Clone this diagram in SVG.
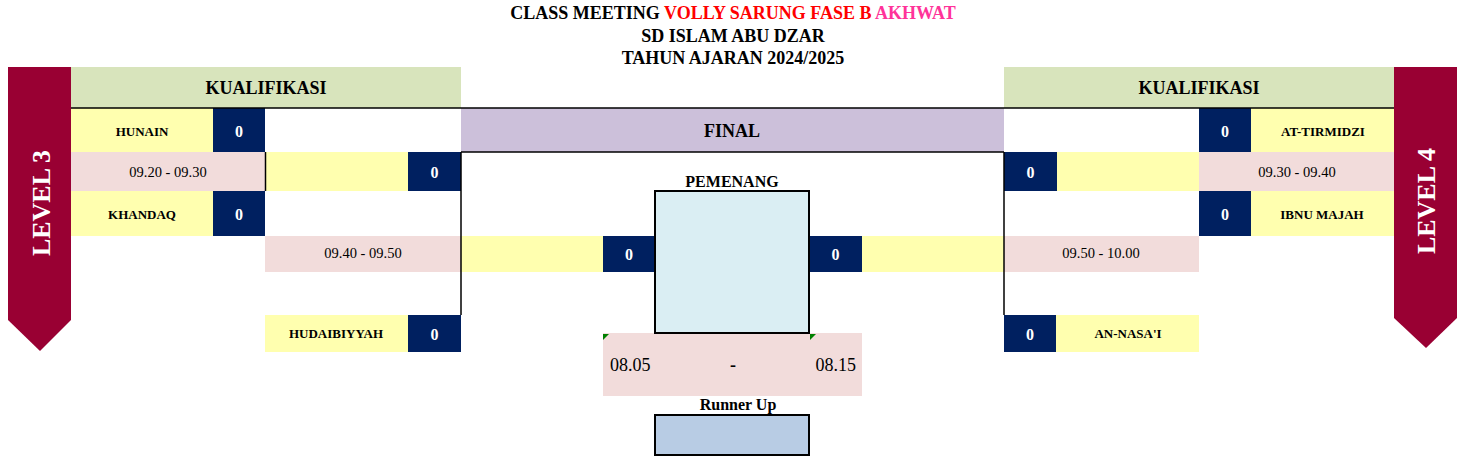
<svg xmlns="http://www.w3.org/2000/svg" width="1466" height="467" viewBox="0 0 1466 467">
<style>
text{font-family:"Liberation Serif","Times New Roman",serif;}
.t{font-weight:bold;font-size:18px;text-anchor:middle;}
.lb{font-weight:bold;font-size:16px;text-anchor:middle;fill:#000;}
.hdr{font-weight:bold;font-size:18px;text-anchor:middle;fill:#000;}
.nm{font-weight:bold;font-size:13px;text-anchor:middle;fill:#000;}
.sc{font-weight:bold;font-size:16px;text-anchor:middle;fill:#fff;}
.tm{font-size:14.5px;text-anchor:middle;fill:#000;}
.ft{font-size:18px;fill:#000;}
.lv{font-weight:bold;font-size:26px;text-anchor:middle;fill:#fff;}
.yel{fill:#FFFFAF;}
.nav{fill:#002060;}
.pnk{fill:#F2DCDB;}
.ln{stroke:#000;stroke-width:1.5;fill:none;}
.bx{stroke:#000;stroke-width:2;}
.cm{fill:#008000;}
</style>

<g id="title">
<text class="t" x="733" y="19"><tspan fill="#000">CLASS MEETING </tspan><tspan fill="#FF0000">VOLLY SARUNG FASE B </tspan><tspan fill="#FF3399">AKHWAT</tspan></text>
<text class="t" x="733" y="42" fill="#000">SD ISLAM ABU DZAR</text>
<text class="t" x="733" y="64" fill="#000">TAHUN AJARAN 2024/2025</text>
</g>

<g id="level3">
<polygon points="8,67 71,67 71,320 40,351 8,320" fill="#990033"/>
<text class="lv" transform="translate(50,203) rotate(-90)">LEVEL 3</text>
</g>
<g id="level4">
<polygon points="1394,67 1457,67 1457,318 1426,348 1394,318" fill="#990033"/>
<text class="lv" transform="translate(1435,201) rotate(-90)">LEVEL 4</text>
</g>

<g id="kualifikasi-left">
<rect x="71" y="67" width="390" height="41" fill="#D8E4BC"/>
<text class="hdr" x="266" y="94">KUALIFIKASI</text>
</g>
<g id="kualifikasi-right">
<rect x="1004" y="67" width="390" height="41" fill="#D8E4BC"/>
<text class="hdr" x="1199" y="94">KUALIFIKASI</text>
</g>

<g id="final">
<rect x="461" y="108" width="543" height="44" fill="#CCC0DA"/>
<text class="hdr" x="732" y="137">FINAL</text>
</g>

<g id="hunain">
<rect class="yel" x="71" y="108" width="142" height="44"/>
<rect class="nav" x="213" y="108" width="52" height="44"/>
<text class="nm" x="142" y="136">HUNAIN</text>
<text class="sc" x="239" y="136.5">0</text>
</g>
<g id="time-l1">
<rect class="pnk" x="71" y="152" width="194" height="39"/>
<text class="tm" x="168" y="177">09.20 - 09.30</text>
</g>
<g id="winner-l1">
<rect class="yel" x="265" y="152" width="143" height="39"/>
<rect class="nav" x="408" y="152" width="53" height="39"/>
<text class="sc" x="434.5" y="177.5">0</text>
</g>
<g id="khandaq">
<rect class="yel" x="71" y="191" width="142" height="45"/>
<rect class="nav" x="213" y="191" width="52" height="45"/>
<text class="nm" x="142" y="219">KHANDAQ</text>
<text class="sc" x="239" y="219.5">0</text>
</g>
<g id="time-l2">
<rect class="pnk" x="265" y="236" width="196" height="36"/>
<text class="tm" x="363" y="258">09.40 - 09.50</text>
</g>
<g id="hudaibiyyah">
<rect class="yel" x="265" y="315" width="143" height="37"/>
<rect class="nav" x="408" y="315" width="53" height="37"/>
<text class="nm" x="336" y="338">HUDAIBIYYAH</text>
<text class="sc" x="434.5" y="340">0</text>
</g>

<g id="finalist-left">
<rect class="yel" x="461" y="236" width="142" height="36"/>
<rect class="nav" x="603" y="236" width="52" height="36"/>
<text class="sc" x="629" y="260">0</text>
</g>
<g id="finalist-right">
<rect class="nav" x="809" y="236" width="53" height="36"/>
<rect class="yel" x="862" y="236" width="142" height="36"/>
<text class="sc" x="835.5" y="260">0</text>
</g>

<g id="at-tirmidzi">
<rect class="nav" x="1199" y="108" width="52" height="44"/>
<rect class="yel" x="1251" y="108" width="143" height="44"/>
<text class="sc" x="1225" y="136.5">0</text>
<text class="nm" x="1323" y="136">AT-TIRMIDZI</text>
</g>
<g id="winner-r1">
<rect class="nav" x="1004" y="152" width="53" height="39"/>
<rect class="yel" x="1057" y="152" width="142" height="39"/>
<text class="sc" x="1030.5" y="177.5">0</text>
</g>
<g id="time-r1">
<rect class="pnk" x="1199" y="152" width="195" height="39"/>
<text class="tm" x="1297" y="177">09.30 - 09.40</text>
</g>
<g id="ibnu-majah">
<rect class="nav" x="1199" y="191" width="52" height="45"/>
<rect class="yel" x="1251" y="191" width="143" height="45"/>
<text class="sc" x="1225" y="219.5">0</text>
<text class="nm" x="1322" y="219">IBNU MAJAH</text>
</g>
<g id="time-r2">
<rect class="pnk" x="1004" y="236" width="195" height="36"/>
<text class="tm" x="1101" y="258">09.50 - 10.00</text>
</g>
<g id="an-nasai">
<rect class="nav" x="1004" y="315" width="52" height="37"/>
<rect class="yel" x="1056" y="315" width="143" height="37"/>
<text class="sc" x="1030" y="340">0</text>
<text class="nm" x="1128" y="338">AN-NASA'I</text>
</g>

<g id="final-time">
<rect class="pnk" x="603" y="333" width="259" height="63"/>
<text class="ft" x="610" y="371">08.05</text>
<text class="ft" x="733" y="371" font-weight="bold" text-anchor="middle">-</text>
<text class="ft" x="856" y="371" text-anchor="end">08.15</text>
</g>
<g id="pemenang">
<text class="lb" x="732" y="187">PEMENANG</text>
<rect class="bx" x="655" y="191" width="154" height="142" fill="#DAEEF3"/>
</g>
<g id="comment-marks">
<polygon class="cm" points="603,334 609,334 603,340"/>
<polygon class="cm" points="810,334 816,334 810,340"/>
</g>
<g id="runner-up">
<text class="lb" x="738" y="410">Runner Up</text>
<rect class="bx" x="655" y="415" width="154" height="40" fill="#B8CCE4"/>
</g>

<g id="connectors">
<line class="ln" x1="71" y1="108" x2="1394" y2="108" stroke-width="2"/>
<line class="ln" x1="461" y1="152" x2="1004" y2="152" stroke-width="2"/>
<line class="ln" x1="265.5" y1="152" x2="265.5" y2="191"/>
<line class="ln" x1="461" y1="152" x2="461" y2="315"/>
<line class="ln" x1="1004" y1="152" x2="1004" y2="315"/>
</g>
</svg>
